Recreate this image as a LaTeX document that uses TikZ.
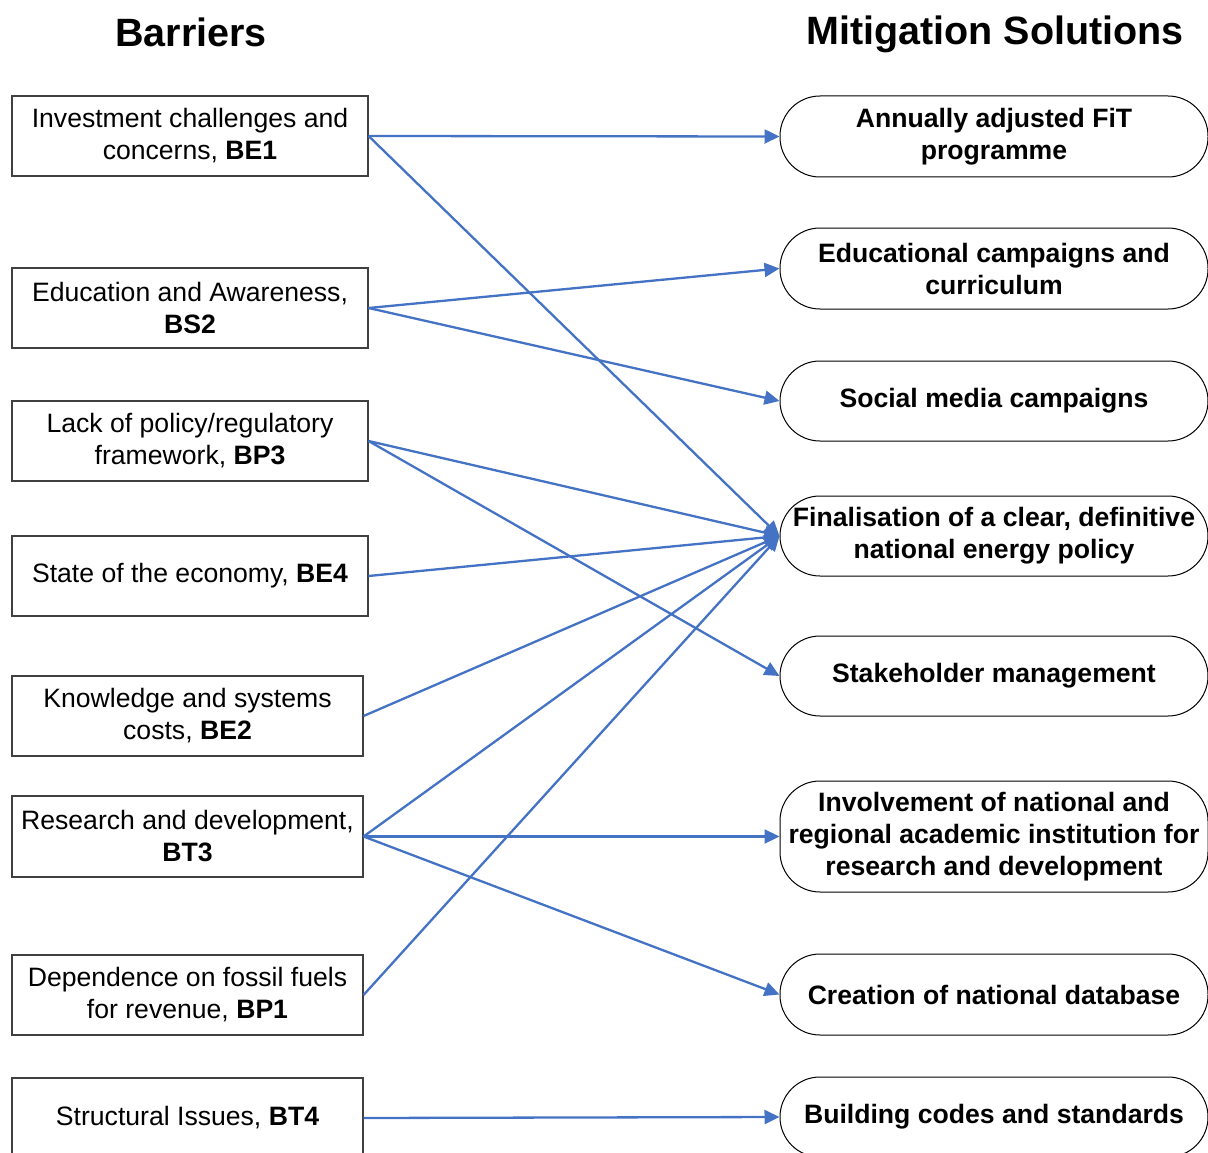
\documentclass[tikz,border=0pt]{standalone}
\usepackage{fontspec}
\setmainfont{Liberation Sans}
\usetikzlibrary{arrows.meta}
\definecolor{arrowblue}{HTML}{4472C4}
\definecolor{boxgray}{HTML}{404040}
\tikzset{
  barrier/.style={draw=boxgray, line width=1.1pt, rectangle, inner sep=0pt, align=center,
    font=\fontsize{26.6}{32}\selectfont},
  solution/.style={draw=black, line width=1pt, rectangle, rounded corners=40pt, inner sep=0pt,
    align=center, minimum width=428pt, font=\fontsize{26.6}{32}\selectfont\bfseries},
  title/.style={font=\fontsize{39.5}{44}\selectfont\bfseries, anchor=base},
  link/.style={draw=arrowblue, line width=2.3pt, -{Triangle[length=15pt,width=14pt]}}
}
\begin{document}
\begin{tikzpicture}[x=1pt,y=-1pt]
\useasboundingbox (0,0) rectangle (1208,1153);
\node[title] (tb) at (191,47) {Barriers};
\node[title] (ts) at (995,45) {Mitigation Solutions};

% barriers
\node[barrier, minimum width=356pt, minimum height=80pt] (be1) at (190,136) {Investment challenges and\\concerns, \textbf{BE1}};
\node[barrier, minimum width=356pt, minimum height=80pt] (bs2) at (190,308) {Education and Awareness,\\\textbf{BS2}};
\node[barrier, minimum width=356pt, minimum height=80pt] (bp3) at (190,441) {Lack of policy/regulatory\\framework, \textbf{BP3}};
\node[barrier, minimum width=356pt, minimum height=80pt] (be4) at (190,576) {State of the economy, \textbf{BE4}};
\node[barrier, minimum width=351pt, minimum height=80pt] (be2) at (187.5,716) {Knowledge and systems\\costs, \textbf{BE2}};
\node[barrier, minimum width=351pt, minimum height=81pt] (bt3) at (187.5,836.5) {Research and development,\\\textbf{BT3}};
\node[barrier, minimum width=351pt, minimum height=80pt] (bp1) at (187.5,995) {Dependence on fossil fuels\\for revenue, \textbf{BP1}};
\node[barrier, minimum width=351pt, minimum height=80pt] (bt4) at (187.5,1118) {Structural Issues, \textbf{BT4}};

% solutions
\node[solution, minimum height=81pt] (s1) at (994,136.5) {Annually adjusted FiT\\programme};
\node[solution, minimum height=81pt] (s2) at (994,268.5) {Educational campaigns and\\curriculum};
\node[solution, minimum height=80pt] (s3) at (994,401) {Social media campaigns};
\node[solution, minimum height=80pt] (s4) at (994,536) {Finalisation of a clear, definitive\\national energy policy};
\node[solution, minimum height=80pt] (s5) at (994,676) {Stakeholder management};
\node[solution, minimum height=111pt] (s6) at (994,836.5) {Involvement of national and\\regional academic institution for\\research and development};
\node[solution, minimum height=81pt] (s7) at (994,994.5) {Creation of national database};
\node[solution, minimum height=80pt] (s8) at (994,1117) {Building codes and standards};

% connectors
\draw[link] (be1.east) -- (s1.west);
\draw[link] (be1.east) -- (s4.west);
\draw[link] (bs2.east) -- (s2.west);
\draw[link] (bs2.east) -- (s3.west);
\draw[link] (bp3.east) -- (s4.west);
\draw[link] (bp3.east) -- (s5.west);
\draw[link] (be4.east) -- (s4.west);
\draw[link] (be2.east) -- (s4.west);
\draw[link] (bt3.east) -- (s4.west);
\draw[link] (bt3.east) -- (s6.west);
\draw[link] (bt3.east) -- (s7.west);
\draw[link] (bp1.east) -- (s4.west);
\draw[link] (bt4.east) -- (s8.west);
\end{tikzpicture}
\end{document}
